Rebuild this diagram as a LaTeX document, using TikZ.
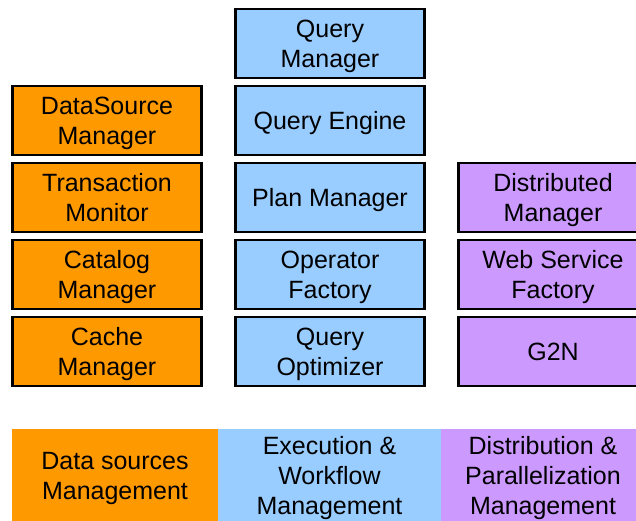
\documentclass[tikz,border=0pt]{standalone}
\usepackage{fontspec}
\setmainfont{Liberation Sans}
\usepackage{xcolor}
\usetikzlibrary{positioning}

\definecolor{dsorange}{HTML}{FF9900}
\definecolor{exblue}{HTML}{99CCFF}
\definecolor{dppurple}{HTML}{CC99FF}

\begin{document}
\begin{tikzpicture}[
  x=1bp, y=-1bp,
  node distance=8bp and 34bp,
  box/.style={rectangle, draw=black, line width=2.4bp, minimum width=189bp,
              minimum height=69bp, align=center, inner sep=0pt, outer sep=0pt,
              text depth=0pt, font=\fontsize{25bp}{30bp}\selectfont},
  ds/.style={box, fill=dsorange},
  ex/.style={box, fill=exblue},
  dp/.style={box, fill=dppurple},
  legend/.style={rectangle, minimum height=98bp, align=center, inner sep=0pt,
                 outer sep=0pt, font=\fontsize{25bp}{30bp}\selectfont}
]
\useasboundingbox (0,0) rectangle (636,521);

% execution and workflow column
\node[ex] (qman) at (330,43.5) {Query\\Manager};
\node[ex, below=of qman] (qengine) {Query Engine};
\node[ex, below=of qengine] (planman) {Plan Manager};
\node[ex, below=of planman] (opfact) {Operator\\Factory};
\node[ex, below=of opfact] (qopt) {Query\\Optimizer};

% data sources column
\node[ds, left=of qengine] (dsman) {DataSource\\Manager};
\node[ds, left=of planman] (txmon) {Transaction\\Monitor};
\node[ds, left=of opfact] (catman) {Catalog\\Manager};
\node[ds, left=of qopt] (cacheman) {Cache\\Manager};

% distribution column
\node[dp, right=of planman] (distman) {Distributed\\Manager};
\node[dp, right=of opfact] (wsfact) {Web Service\\Factory};
\node[dp, right=of qopt] (gtwon) {G2N};

% legend strip
\node[legend, fill=dsorange, minimum width=206bp] (lgds) at (115,478)
  {Data sources\\Management};
\node[legend, fill=exblue, minimum width=223bp, right=0pt of lgds] (lgex)
  {Execution \&\\Workflow\\Management};
\node[legend, fill=dppurple, minimum width=204bp, right=0pt of lgex] (lgdp)
  {Distribution \&\\Parallelization\\Management};

\end{tikzpicture}
\end{document}
